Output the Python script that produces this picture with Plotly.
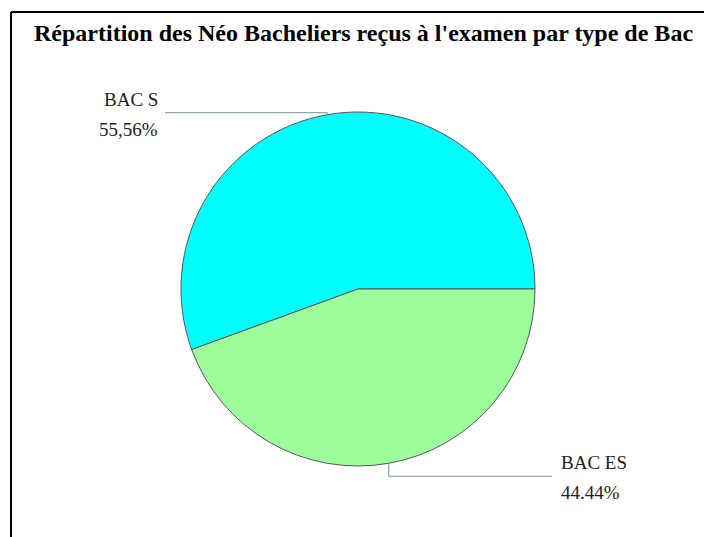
import math
import plotly.graph_objects as go

categories = ["BAC S", "BAC ES"]
values = [55.56, 44.44]
pct_labels = ["55,56%", "44.44%"]
colors = ["#00FFFF", "#9CFF9C"]

W, H = 704, 537
cx, cy, r = 358, 289, 177
FONT = "Liberation Serif, Times New Roman, serif"

def px(x):
    return x / W

def py(y):
    return 1 - y / H

total = sum(values)
first_frac = values[0] / total
rotation = 90 - first_frac * 360  # first slice spans ccw from 3 o'clock

fig = go.Figure(go.Pie(
    labels=categories, values=values, sort=False,
    direction="counterclockwise", rotation=rotation,
    marker=dict(colors=colors, line=dict(color="#555555", width=1)),
    textinfo="none", hoverinfo="label+percent", showlegend=False,
    domain=dict(x=[px(cx - r), px(cx + r)], y=[py(cy + r), py(cy - r)]),
))

shapes = [
    dict(type="line", xref="paper", yref="paper", x0=px(11), y0=py(12), x1=px(704), y1=py(12),
         line=dict(color="black", width=2)),
    dict(type="line", xref="paper", yref="paper", x0=px(11), y0=py(12), x1=px(11), y1=py(537),
         line=dict(color="black", width=2)),
]
annotations = [
    dict(text="<b>Répartition des Néo Bacheliers reçus à l'examen par type de Bac</b>",
         xref="paper", yref="paper", x=px(363), y=py(33), showarrow=False,
         font=dict(family=FONT, size=24, color="black"),
         xanchor="center", yanchor="middle"),
]

start = 0.0
for cat, v, pl in zip(categories, values, pct_labels):
    mid = start + v / total * 360 / 2
    start += v / total * 360
    a = math.radians(mid)
    ex, ey = cx + r * math.cos(a), cy - r * math.sin(a)
    if ey < cy:
        ly = ey - 2
        lx_end = 165
        tx, anchor = 160, "right"
        ty1, ty2 = ly - 13, ly + 17
    else:
        ly = ey + 13
        lx_end = 552
        tx, anchor = 559, "left"
        ty1, ty2 = ly - 14, ly + 16
    shapes.append(dict(type="line", xref="paper", yref="paper", x0=px(ex), y0=py(ey),
                       x1=px(ex), y1=py(ly), line=dict(color="#6F9994", width=1)))
    shapes.append(dict(type="line", xref="paper", yref="paper", x0=px(ex), y0=py(ly),
                       x1=px(lx_end), y1=py(ly), line=dict(color="#6F9994", width=1)))
    for t, yy in ((cat, ty1), (pl, ty2)):
        annotations.append(dict(text=t, xref="paper", yref="paper", x=px(tx), y=py(yy),
                                showarrow=False, xanchor=anchor, yanchor="middle",
                                font=dict(family=FONT, size=19, color="#222222")))

fig.update_layout(width=W, height=H, margin=dict(l=0, r=0, t=0, b=0),
                  paper_bgcolor="white", plot_bgcolor="white",
                  shapes=shapes, annotations=annotations)
fig.write_html("out.html", config={"displayModeBar": False},
               post_script="document.body.style.margin='0';document.body.style.overflow='hidden';")
